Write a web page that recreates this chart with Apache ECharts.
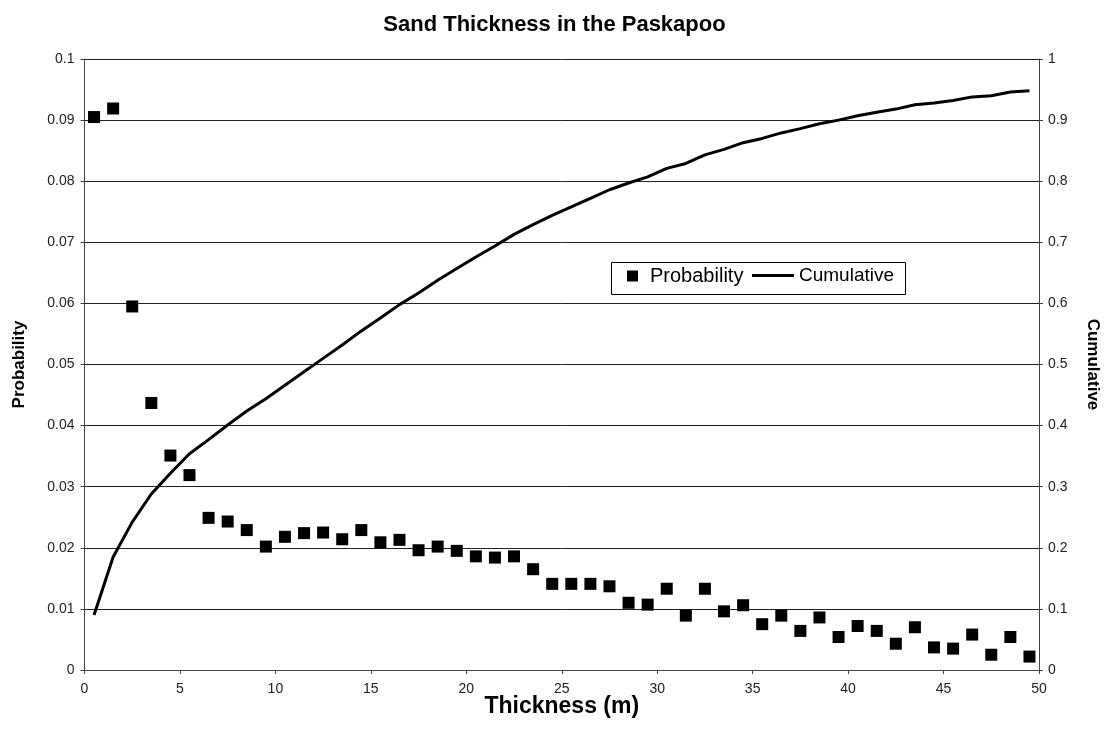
<!DOCTYPE html>
<html>
<head>
<meta charset="utf-8">
<script src="https://cdn.jsdelivr.net/npm/echarts@6/dist/echarts.min.js"></script>
<style>html,body{margin:0;padding:0;background:#fff}#c{width:1109px;height:745px}</style>
</head>
<body>
<div id="c"></div>
<script>
const thickness = [0.5,1.5,2.5,3.5,4.5,5.5,6.5,7.5,8.5,9.5,10.5,11.5,12.5,13.5,14.5,15.5,16.5,17.5,18.5,19.5,20.5,21.5,22.5,23.5,24.5,25.5,26.5,27.5,28.5,29.5,30.5,31.5,32.5,33.5,34.5,35.5,36.5,37.5,38.5,39.5,40.5,41.5,42.5,43.5,44.5,45.5,46.5,47.5,48.5,49.5];
const probability = [0.0905,0.0919,0.0595,0.0437,0.0351,0.0319,0.0249,0.0243,0.0229,0.0202,0.0218,0.0224,0.0225,0.0214,0.0229,0.0209,0.0213,0.0196,0.0202,0.0195,0.0186,0.0184,0.0186,0.0165,0.0141,0.0141,0.0141,0.0137,0.0110,0.0107,0.0133,0.0089,0.0133,0.0096,0.0106,0.0075,0.0089,0.0064,0.0086,0.0054,0.0072,0.0064,0.0043,0.0070,0.0037,0.0035,0.0058,0.0025,0.0054,0.0022];
const cumulative = [0.090,0.185,0.242,0.288,0.322,0.354,0.377,0.401,0.424,0.444,0.466,0.488,0.510,0.532,0.555,0.576,0.598,0.617,0.638,0.657,0.676,0.694,0.713,0.729,0.744,0.758,0.772,0.786,0.797,0.807,0.821,0.829,0.843,0.852,0.863,0.870,0.879,0.886,0.894,0.900,0.907,0.913,0.918,0.925,0.928,0.932,0.938,0.940,0.946,0.948];
const titleText = 'Sand Thickness in the Paskapoo';
const xName = 'Thickness (m)';
const yLeftName = 'Probability';
const yRightName = 'Cumulative';

const chart = echarts.init(document.getElementById('c'), null, {renderer: 'canvas'});
const probData = thickness.map((x, i) => [x, probability[i]]);
const cumData = thickness.map((x, i) => [x, cumulative[i]]);
const font = 'Arial, "Liberation Sans", sans-serif';
const axisCol = '#444';
chart.setOption({
  animation: false,
  backgroundColor: '#fff',
  title: {
    text: titleText, left: 'center', top: 9,
    textStyle: {fontFamily: font, fontSize: 22, fontWeight: 'bold', color: '#000'}
  },
  grid: {left: 84.5, right: 66, top: 59, bottom: 75},
  legend: [{
    data: [{name: 'Probability', icon: 'path://M0,0h10v10h-10z'}],
    left: 627, top: 266, itemWidth: 11, itemHeight: 11, padding: 0,
    itemStyle: {color: '#000', opacity: 1},
    textStyle: {fontFamily: font, fontSize: 20, color: '#000', padding: [0, 0, 0, 7]}
  }, {
    data: [{name: 'Cumulative', icon: 'path://M0,0h42v3h-42z'}],
    left: 752, top: 266, itemWidth: 42, itemHeight: 14, padding: 0,
    itemStyle: {color: '#000'},
    textStyle: {fontFamily: font, fontSize: 19, color: '#000'}
  }],
  graphic: [{
    type: 'rect', left: 609, top: 260, z: 100, silent: true,
    shape: {width: 294, height: 32},
    style: {fill: 'none', stroke: '#000', lineWidth: 1}
  }],
  xAxis: {
    type: 'value', min: 0, max: 50, interval: 5,
    name: xName, nameLocation: 'middle', nameGap: 25, nameMoveOverlap: false,
    nameTextStyle: {fontFamily: font, fontSize: 23, fontWeight: 'bold', color: '#000'},
    axisLine: {lineStyle: {color: axisCol, width: 1}},
    axisTick: {show: true, length: 4, lineStyle: {color: axisCol}},
    axisLabel: {fontFamily: font, fontSize: 14, color: '#222', margin: 12},
    splitLine: {show: false}
  },
  yAxis: [{
    type: 'value', min: 0, max: 0.1, interval: 0.01, position: 'left',
    name: yLeftName, nameLocation: 'middle', nameGap: 57, nameRotate: 90, nameMoveOverlap: false,
    nameTextStyle: {fontFamily: font, fontSize: 17, fontWeight: 'bold', color: '#000'},
    axisLine: {show: true, lineStyle: {color: axisCol, width: 1}},
    axisTick: {show: true, length: 4, lineStyle: {color: axisCol}},
    axisLabel: {fontFamily: font, fontSize: 14, color: '#222', margin: 10,
      formatter: v => String(+v.toFixed(2))},
    splitLine: {show: true, lineStyle: {color: '#222', width: 1}}
  }, {
    type: 'value', min: 0, max: 1, interval: 0.1, position: 'right',
    name: yRightName, nameLocation: 'middle', nameGap: 45, nameRotate: -90, nameMoveOverlap: false,
    nameTextStyle: {fontFamily: font, fontSize: 17, fontWeight: 'bold', color: '#000'},
    axisLine: {show: true, lineStyle: {color: axisCol, width: 1}},
    axisTick: {show: true, length: 4, lineStyle: {color: axisCol}},
    axisLabel: {fontFamily: font, fontSize: 14, color: '#222', margin: 9,
      formatter: v => String(+v.toFixed(1))},
    splitLine: {show: false}
  }],
  series: [{
    name: 'Probability', type: 'scatter', yAxisIndex: 0,
    data: probData, symbol: 'rect', symbolSize: 12,
    itemStyle: {color: '#000', opacity: 1}
  }, {
    name: 'Cumulative', type: 'line', yAxisIndex: 1,
    data: cumData, showSymbol: false, symbol: 'none',
    lineStyle: {color: '#000', width: 3}, itemStyle: {color: '#000'}
  }]
});
</script>
</body>
</html>
